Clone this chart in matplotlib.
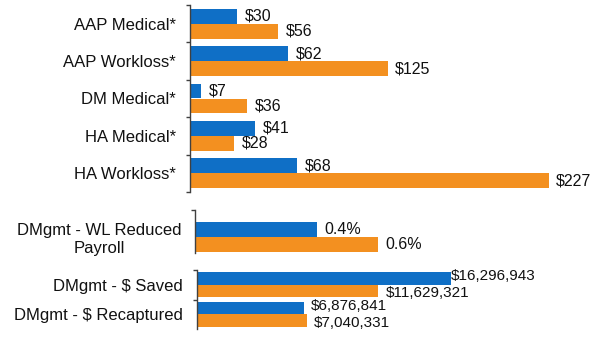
import matplotlib
matplotlib.use("Agg")
import matplotlib.pyplot as plt

plt.rcParams["font.family"] = ["Liberation Sans", "DejaVu Sans"]

BLUE = "#0f6fc6"
ORANGE = "#f39020"
AXIS = "#404040"

# top group: per-claim costs
cost_cats = ["AAP Medical*", "AAP Workloss*", "DM Medical*", "HA Medical*", "HA Workloss*"]
cost_blue = [30, 62, 7, 41, 68]
cost_orange = [56, 125, 36, 28, 227]

# middle group: reduced payroll
pay_cats = ["DMgmt - WL Reduced\nPayroll"]
pay_blue = [0.4]
pay_orange = [0.6]

# bottom group: dollars
usd_cats = ["DMgmt - $ Saved", "DMgmt - $ Recaptured"]
usd_blue = [16296943, 6876841]
usd_orange = [11629321, 7040331]

W, H = 596, 339
fig = plt.figure(figsize=(W / 100, H / 100), dpi=100)


def px_axes(left, top, bottom, right=W):
    return fig.add_axes([left / W, (H - bottom) / H, (right - left) / W, (bottom - top) / H])


def style(ax, minor):
    for s in ["top", "right", "bottom"]:
        ax.spines[s].set_visible(False)
    ax.spines["left"].set_color(AXIS)
    ax.spines["left"].set_linewidth(1.0)
    ax.set_xticks([])
    ax.tick_params(axis="y", which="major", length=0, pad=10, labelsize=12, labelcolor="#111111")
    ax.set_yticks(minor, minor=True)
    ax.tick_params(axis="y", which="minor", length=3, width=1, color=AXIS)


def draw(ax, cats, blue, orange, fmt, gaps_b, gaps_o, h=0.4, fs=11.5, dy=0):
    ys = list(range(len(cats)))
    ax.barh([y - h / 2 for y in ys], blue, height=h, color=BLUE)
    ax.barh([y + h / 2 for y in ys], orange, height=h, color=ORANGE)
    for y, b, o, gb, go in zip(ys, blue, orange, gaps_b, gaps_o):
        ax.annotate(fmt(b), (b, y - h / 2), xytext=(gb, dy), textcoords="offset points",
                    va="center", ha="left", fontsize=fs, color="#111111")
        ax.annotate(fmt(o), (o, y + h / 2), xytext=(go, -dy), textcoords="offset points",
                    va="center", ha="left", fontsize=fs, color="#111111")
    ax.set_yticks(ys)
    ax.set_yticklabels(cats)


# top panel
ax1 = px_axes(190, 5, 192)
draw(ax1, cost_cats, cost_blue, cost_orange, lambda v: f"${v}", [5.5] * 5, [5.5] * 5)
ax1.set_xlim(0, 406 / 1.58)
ax1.set_ylim(4.5, -0.5)
style(ax1, [-0.5, 0.5, 1.5, 2.5, 3.5, 4.5])

# middle panel
ax2 = px_axes(195, 210, 253)
draw(ax2, pay_cats, pay_blue, pay_orange, lambda v: f"{v:.1f}%", [5], [5])
ax2.set_xlim(0, 401 / 305)
ax2.set_ylim(0.427, -0.72)
style(ax2, [-0.72])
for t in ax2.get_yticklabels():
    t.set_multialignment("center")

# bottom panel
ax3 = px_axes(197, 270, 329)
draw(ax3, usd_cats, usd_blue, usd_orange, lambda v: f"${v:,}", [0, 5], [5, 5],
     h=0.42, fs=11, dy=1.5)
ax3.set_xlim(0, 399 / 15.6 * 1e6)
ax3.set_ylim(1.5, -0.5)
style(ax3, [-0.5, 0.5])

fig.savefig("out.png", dpi=100)
